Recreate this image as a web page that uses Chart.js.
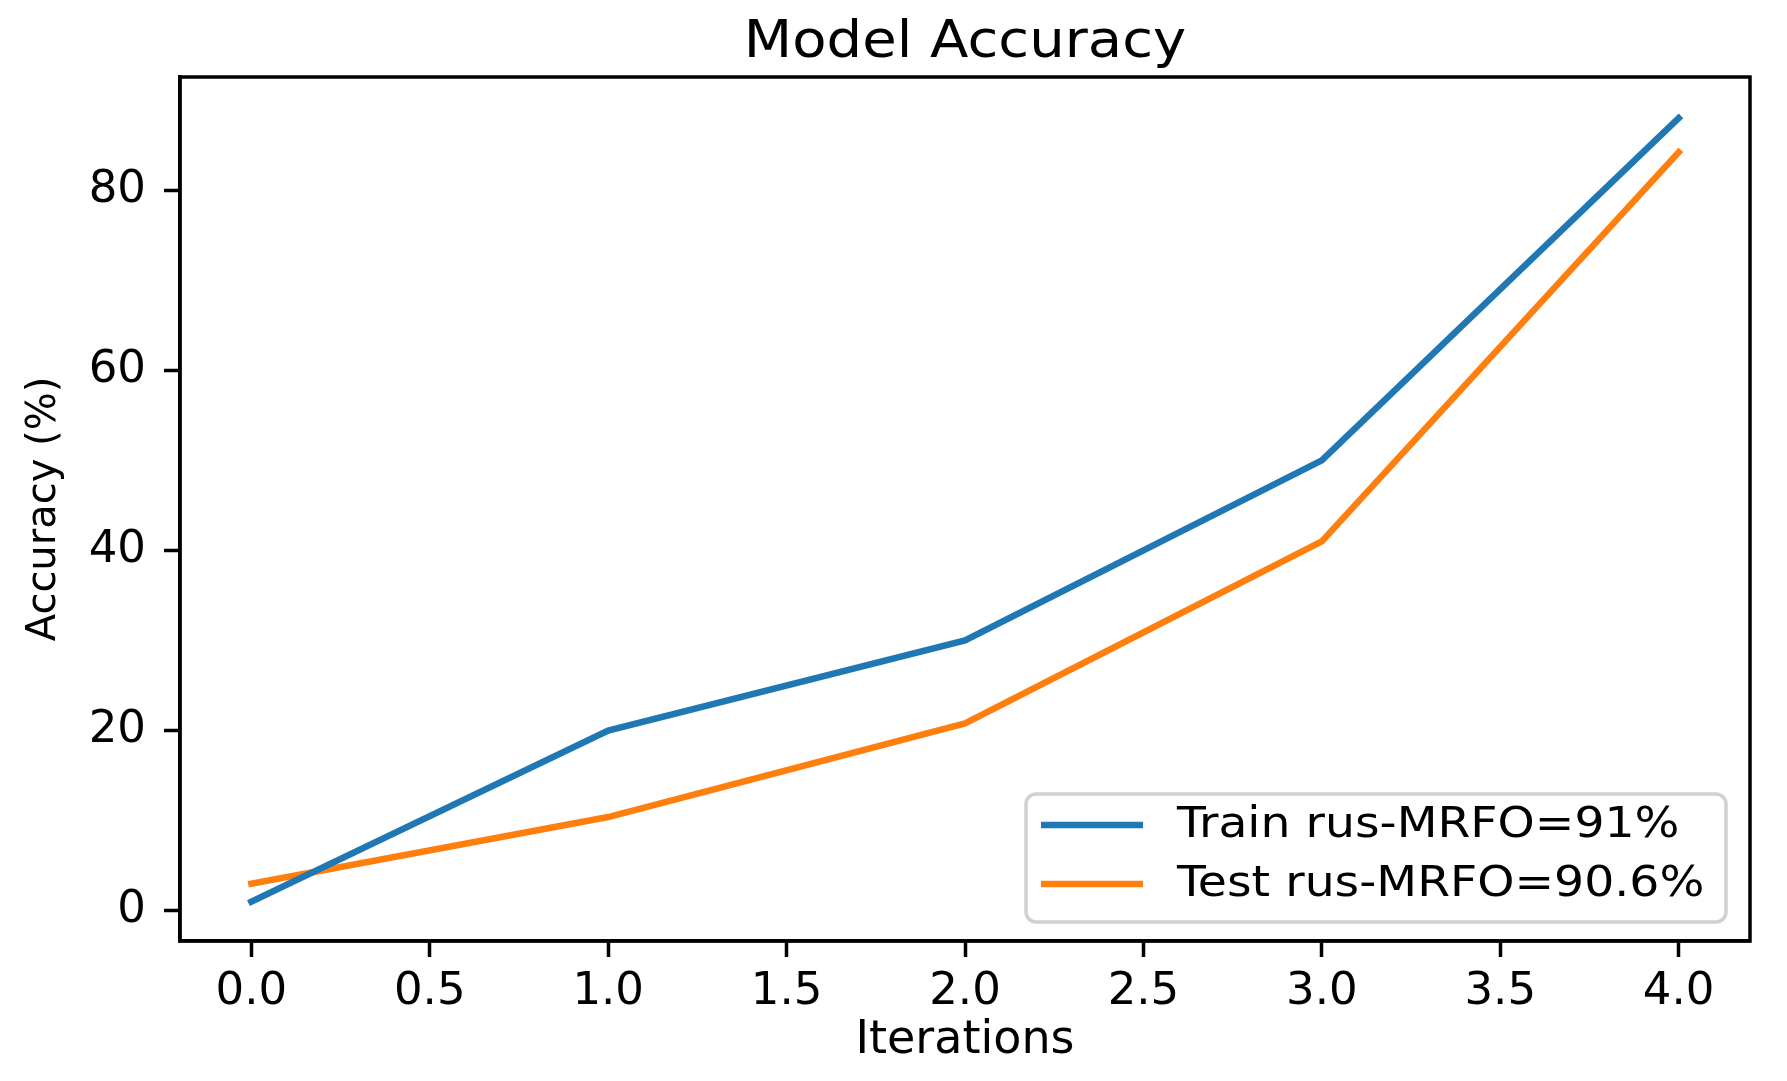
<!DOCTYPE html>
<html>
<head>
<meta charset="utf-8">
<script src="https://cdn.jsdelivr.net/npm/chart.js@4.4.0/dist/chart.umd.min.js"></script>
<style>
  html, body { margin: 0; padding: 0; background: #fff; }
  #wrap { width: 1787px; height: 1081px; }
</style>
</head>
<body>
<div id="wrap"><canvas id="acc_chart" width="1787" height="1081"></canvas></div>
<script>
// values
var iterations = [0, 1, 2, 3, 4];
var trainAcc = [1, 20, 30, 50, 88];
var testAcc = [3, 10.4, 20.8, 41, 84.2];
var xTicks = [0, 0.5, 1, 1.5, 2, 2.5, 3, 3.5, 4];
var yTicks = [0, 20, 40, 60, 80];
var seriesNames = ['Train rus-MRFO=91%', 'Test rus-MRFO=90.6%'];
var chartTitle = 'Model Accuracy';

var FONT = 'DejaVu Sans';
var STRETCH = 1.1; // the original picture is a bit wider than tall

function toPoints(ys) {
    var pts = [];
    for (var i = 0; i < iterations.length; ++i) {
        pts.push({x: iterations[i], y: ys[i]});
    }
    return pts;
}

function wideText(ctx, txt, x, y) {
    ctx.save();
    ctx.translate(x, y);
    ctx.scale(STRETCH, 1);
    ctx.fillText(txt, 0, 0);
    ctx.restore();
}

// frame on top/right, title over the plot area, boxed legend like matplotlib
var mplBits = {
    id: 'mplBits',
    afterDatasetsDraw: function(chart) {
        var ctx = chart.ctx;
        var a = chart.chartArea;
        ctx.save();
        ctx.strokeStyle = '#000';
        ctx.lineWidth = 3.5;
        ctx.strokeRect(a.left, a.top, a.right - a.left, a.bottom - a.top);

        // title
        ctx.fillStyle = '#000';
        ctx.font = '51px "' + FONT + '"';
        ctx.textAlign = 'center';
        ctx.textBaseline = 'alphabetic';
        wideText(ctx, chartTitle, (a.left + a.right) / 2, 57);

        // legend
        var bx = 1026, by = 794, bw = 700, bh = 128, r = 10;
        ctx.beginPath();
        ctx.moveTo(bx + r, by);
        ctx.arcTo(bx + bw, by, bx + bw, by + bh, r);
        ctx.arcTo(bx + bw, by + bh, bx, by + bh, r);
        ctx.arcTo(bx, by + bh, bx, by, r);
        ctx.arcTo(bx, by, bx + bw, by, r);
        ctx.closePath();
        ctx.fillStyle = 'rgba(255,255,255,0.8)';
        ctx.fill();
        ctx.strokeStyle = '#d0d0d0';
        ctx.lineWidth = 3.5;
        ctx.stroke();

        var rows = [825, 884];
        chart.data.datasets.forEach(function(ds, i) {
            ctx.strokeStyle = ds.borderColor;
            ctx.lineWidth = ds.borderWidth;
            ctx.beginPath();
            ctx.moveTo(1041, rows[i]);
            ctx.lineTo(1143, rows[i]);
            ctx.stroke();
            ctx.fillStyle = '#000';
            ctx.font = '43px "' + FONT + '"';
            ctx.textAlign = 'left';
            ctx.textBaseline = 'middle';
            wideText(ctx, ds.label, 1177, rows[i] + 1);
        });
        ctx.restore();
    }
};

var ctx = document.getElementById('acc_chart').getContext('2d');
var chart = new Chart(ctx, {
    type: 'line',
    data: {
        datasets: [{
            label: seriesNames[0],
            data: toPoints(trainAcc),
            borderColor: '#1f77b4',
            borderWidth: 6.5,
            borderCapStyle: 'square',
            pointRadius: 0,
            tension: 0,
            fill: false
        }, {
            label: seriesNames[1],
            data: toPoints(testAcc),
            borderColor: '#ff7f0e',
            borderWidth: 6.5,
            borderCapStyle: 'square',
            pointRadius: 0,
            tension: 0,
            fill: false
        }]
    },
    options: {
        responsive: false,
        animation: false,
        layout: {padding: {left: 0, top: 77, right: 37, bottom: 0}},
        plugins: {
            legend: {display: false},
            title: {display: false},
            tooltip: {enabled: false}
        },
        scales: {
            x: {
                type: 'linear',
                min: -0.2,
                max: 4.2,
                afterBuildTicks: function(scale) {
                    scale.ticks = xTicks.map(function(v) { return {value: v}; });
                },
                afterFit: function(scale) { scale.height = 1081 - 941; },
                grid: {drawOnChartArea: false, drawTicks: true, tickLength: 16, tickWidth: 3.5, tickColor: '#000'},
                border: {display: true, color: '#000', width: 3.5},
                ticks: {
                    autoSkip: false, maxRotation: 0, padding: 8,
                    color: '#000', font: {family: FONT, size: 45},
                    callback: function(v) { return Number(v).toFixed(1); }
                },
                title: {display: true, text: 'Iterations', color: '#000',
                        font: {family: FONT, size: 46}, padding: {top: 0, bottom: 12}}
            },
            y: {
                type: 'linear',
                min: -3.36,
                max: 92.56,
                afterBuildTicks: function(scale) {
                    scale.ticks = yTicks.map(function(v) { return {value: v}; });
                },
                afterFit: function(scale) { scale.width = 180; },
                grid: {drawOnChartArea: false, drawTicks: true, tickLength: 16, tickWidth: 3.5, tickColor: '#000'},
                border: {display: true, color: '#000', width: 3.5},
                ticks: {
                    autoSkip: false, padding: 18,
                    color: '#000', font: {family: FONT, size: 45}
                },
                title: {display: true, text: 'Accuracy (%)', color: '#000',
                        font: {family: FONT, size: 40}, padding: {top: 21, bottom: 0}}
            }
        }
    },
    plugins: [mplBits]
});
</script>
</body>
</html>
